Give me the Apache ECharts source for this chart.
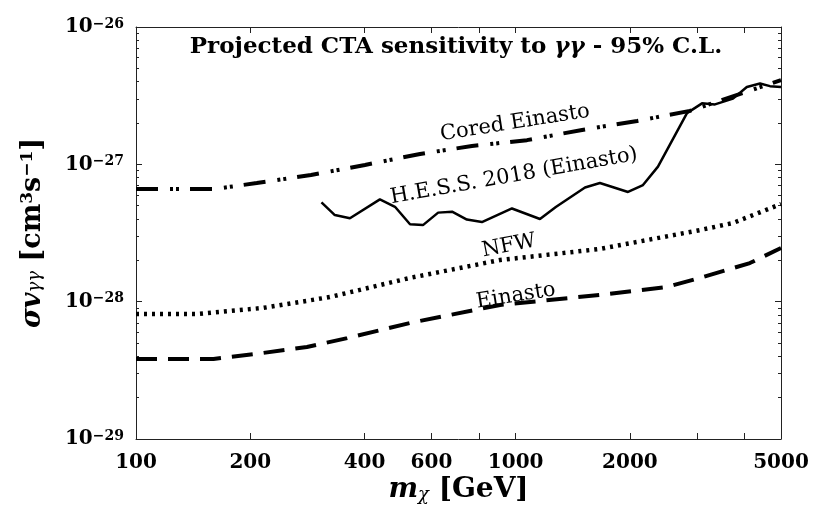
<!DOCTYPE html>
<html>
<head>
<meta charset="utf-8">
<script src="https://cdn.jsdelivr.net/npm/echarts@6/dist/echarts.min.js"></script>
<style>
  html, body { margin: 0; padding: 0; background: #fff; }
  #chart { width: 814px; height: 516px; }
</style>
</head>
<body>
<div id="chart"></div>
<script>
// mass (GeV) and <sigma v> (cm^3 s^-1)
const einastoX = [100, 160, 216, 282, 360, 527, 910, 1667, 2504, 3058, 4140, 5000];
const einastoY = [3.83e-29, 3.83e-29, 4.23e-29, 4.68e-29, 5.43e-29, 7.0e-29, 9.46e-29, 1.12e-28, 1.28e-28, 1.49e-28, 1.91e-28, 2.46e-28];

const nfwX = [100, 145, 216, 324, 527, 910, 1667, 3058, 3737, 5000];
const nfwY = [8.12e-29, 8.12e-29, 9.0e-29, 1.08e-28, 1.49e-28, 2.01e-28, 2.42e-28, 3.32e-28, 3.74e-28, 5.14e-28];

const coredX = [100, 160, 208, 289, 401, 560, 767, 1071, 1496, 2090, 2877, 3970, 5000];
const coredY = [6.6e-28, 6.6e-28, 7.31e-28, 8.36e-28, 9.9e-28, 1.19e-27, 1.36e-27, 1.50e-27, 1.78e-27, 2.07e-27, 2.45e-27, 3.31e-27, 4.11e-27];

const hessX = [308, 334, 366, 439, 481, 527, 570, 625, 680, 744, 815, 978, 1159, 1276, 1523, 1667, 1977, 2165, 2371, 2827, 3097, 3350, 3737, 4064, 4402, 4677, 5000];
const hessY = [5.29e-28, 4.27e-28, 4.05e-28, 5.56e-28, 4.91e-28, 3.66e-28, 3.61e-28, 4.45e-28, 4.52e-28, 3.96e-28, 3.8e-28, 4.77e-28, 4.0e-28, 4.89e-28, 6.78e-28, 7.31e-28, 6.29e-28, 7.07e-28, 9.62e-28, 2.36e-27, 2.78e-27, 2.73e-27, 3.01e-27, 3.66e-27, 3.88e-27, 3.71e-27, 3.66e-27];

const xTickValues = [200, 400, 600, 800, 1000, 2000, 3000, 4000];
const xLabelValues = [100, 200, 400, 600, 1000, 2000, 5000];

// ECharts' log scale rounds values this small to 0, so the y axis works in units of 1e-29
const Y_UNIT_EXP = -29;
const Y_UNIT = 1e-29;
const yMajorValues = [1, 10, 100, 1000];
const yMinorValues = [];
[1, 10, 100].forEach(function (d) {
    for (let k = 2; k <= 9; k++) yMinorValues.push(k * d);
});

const SERIF = '"DejaVu Serif", serif';
const INK = '#000';
const AXIS = '#222';

function zip(xs, ys) { return xs.map(function (x, i) { return [x, ys[i] / Y_UNIT]; }); }

function xAxisDef(pos, showLabels) {
    return {
        type: 'log', logBase: 10, min: 100, max: 5000, position: pos,
        axisLine: { show: true, onZero: false, lineStyle: { color: AXIS, width: 1 } },
        axisTick: { show: true, inside: true, length: 6, customValues: xTickValues, lineStyle: { color: AXIS } },
        axisLabel: {
            show: showLabels, customValues: xLabelValues, margin: 14,
            fontFamily: SERIF, fontWeight: 'bold', fontSize: 20, color: INK,
            formatter: function (v) { return String(Math.round(v)); }
        },
        splitLine: { show: false }, minorTick: { show: false }
    };
}

function yAxisDef(pos, values, len, showLabels, showLine) {
    return {
        type: 'log', logBase: 10, min: 1, max: 1000, position: pos,
        axisLine: { show: showLine, onZero: false, lineStyle: { color: AXIS, width: 1 } },
        axisTick: { show: true, inside: true, length: len, customValues: values, lineStyle: { color: AXIS } },
        axisLabel: {
            show: showLabels, customValues: yMajorValues, margin: 12,
            formatter: function (v) {
                const e = Math.round(Math.log10(v)) + Y_UNIT_EXP;
                return '{b|10}{s|\u2212' + (-e) + '}';
            },
            rich: {
                b: { fontFamily: SERIF, fontWeight: 'bold', fontSize: 20, lineHeight: 20, padding: [8, 0, 8, 0], color: INK },
                s: { fontFamily: SERIF, fontWeight: 'bold', fontSize: 14, lineHeight: 14, verticalAlign: 'top', color: INK }
            }
        },
        splitLine: { show: false }, minorTick: { show: false }
    };
}

const xAxes = [xAxisDef('bottom', true), xAxisDef('top', false)];
xAxes[0].name = '{i|m}{sub|\u03c7}{n| [GeV]}';
xAxes[0].nameLocation = 'middle';
xAxes[0].nameGap = 39;
xAxes[0].nameMoveOverlap = false;
xAxes[0].nameTextStyle = {
    rich: {
        i: { fontFamily: SERIF, fontWeight: 'bold', fontStyle: 'italic', fontSize: 28, lineHeight: 28, padding: [4, 0, 8, 0], color: INK },
        n: { fontFamily: SERIF, fontWeight: 'bold', fontSize: 28, lineHeight: 28, padding: [4, 0, 8, 0], color: INK },
        sub: { fontFamily: SERIF, fontStyle: 'italic', fontSize: 18, lineHeight: 18, verticalAlign: 'bottom', padding: [0, 0, 2, 0], color: INK }
    }
};

const yAxes = [
    yAxisDef('left', yMajorValues, 6, true, true),
    yAxisDef('left', yMinorValues, 3, false, false),
    yAxisDef('right', yMajorValues, 6, false, true),
    yAxisDef('right', yMinorValues, 3, false, false)
];
yAxes[0].name = '{i|\u03c3v}{sub|\u03b3\u03b3}{n| [cm}{sup|3}{n|s}{sup|\u22121}{n|]}';
yAxes[0].nameLocation = 'middle';
yAxes[0].nameRotate = 90;
yAxes[0].nameGap = 68;
yAxes[0].nameTextStyle = {
    rich: {
        i: { fontFamily: SERIF, fontWeight: 'bold', fontStyle: 'italic', fontSize: 27, lineHeight: 27, padding: [8, 0, 8, 0], color: INK },
        n: { fontFamily: SERIF, fontWeight: 'bold', fontSize: 27, lineHeight: 27, padding: [8, 0, 8, 0], color: INK },
        sub: { fontFamily: SERIF, fontStyle: 'italic', fontSize: 18, lineHeight: 18, verticalAlign: 'bottom', padding: [0, 0, 2, 0], color: INK },
        sup: { fontFamily: SERIF, fontWeight: 'bold', fontSize: 17, lineHeight: 17, verticalAlign: 'top', color: INK }
    }
};

function curveLabel(text, x, y, deg) {
    return {
        type: 'text', x: x, y: y, rotation: deg * Math.PI / 180,
        style: { text: text, fill: INK, font: '21px ' + SERIF, align: 'center', verticalAlign: 'middle' },
        z: 10
    };
}

const chart = echarts.init(document.getElementById('chart'), null, { renderer: 'canvas' });
chart.setOption({
    animation: false,
    backgroundColor: '#fff',
    grid: { left: 136, right: 33, top: 27, bottom: 77, containLabel: false, outerBoundsMode: 'none' },
    title: {
        text: '{b|Projected CTA sensitivity to }{g|\u03b3\u03b3}{b| - 95% C.L.}',
        left: 451, top: 31, textAlign: 'center',
        textStyle: {
            rich: {
                b: { fontFamily: SERIF, fontWeight: 'bold', fontSize: 23, color: INK },
                g: { fontFamily: SERIF, fontStyle: 'italic', fontSize: 23, color: INK }
            }
        }
    },
    xAxis: xAxes,
    yAxis: yAxes,
    graphic: [
        curveLabel('Cored Einasto', 515, 123, 9),
        curveLabel('H.E.S.S. 2018 (Einasto)', 514, 176, 10),
        curveLabel('NFW', 509, 246, 11),
        curveLabel('Einasto', 516, 296, 9)
    ],
    series: [
        {
            name: 'Einasto', type: 'line', xAxisIndex: 0, yAxisIndex: 0, symbol: 'none',
            data: zip(einastoX, einastoY),
            lineStyle: { color: INK, width: 4, type: [21, 11], cap: 'butt' }
        },
        {
            name: 'NFW', type: 'line', xAxisIndex: 0, yAxisIndex: 0, symbol: 'none',
            data: zip(nfwX, nfwY),
            lineStyle: { color: INK, width: 4.5, type: [3, 5], cap: 'butt' }
        },
        {
            name: 'Cored Einasto', type: 'line', xAxisIndex: 0, yAxisIndex: 0, symbol: 'none',
            data: zip(coredX, coredY),
            lineStyle: { color: INK, width: 4, type: [22, 12, 3, 3, 3, 11], cap: 'butt' }
        },
        {
            name: 'H.E.S.S. 2018 (Einasto)', type: 'line', xAxisIndex: 0, yAxisIndex: 0, symbol: 'none',
            data: zip(hessX, hessY),
            lineStyle: { color: INK, width: 2.5 }
        }
    ]
});
</script>
</body>
</html>
